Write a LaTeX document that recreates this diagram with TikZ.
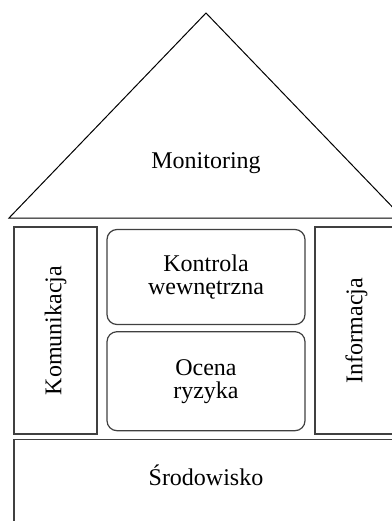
\documentclass[tikz,border=0pt]{standalone}
\usepackage{fontspec}
\setmainfont{Liberation Serif}
\usetikzlibrary{positioning}

\begin{document}
\begin{tikzpicture}[x=0.5pt,y=-0.5pt,
	every node/.style={font=\fontsize{12}{11.5}\selectfont},
	pillar/.style={draw=black!75,line width=0.6pt,minimum width=41.5pt,minimum height=103.5pt,inner sep=0pt},
	room/.style={draw=black!75,line width=0.6pt,rounded corners=5pt,minimum width=99pt,inner sep=0pt,align=center},
	ground/.style={draw=black!75,line width=0.6pt,minimum width=192pt,minimum height=60pt,inner sep=0pt,anchor=north}]
	\clip (0,0) rectangle (392,521);
	% roof
	\draw[line width=0.5pt] (9,218) -- (206,13) -- (403,218) -- cycle;
	\node[anchor=base] (mon) at (206,168) {Monitoring};
	% walls
	\node[pillar] (kom) at (55.5,330.5) {};
	\node[rotate=90] at (kom.center) {Komunikacja};
	\node[pillar] (inf) at (356.5,330.5) {};
	\node[rotate=90] at (inf.center) {Informacja};
	\node[room,minimum height=47.5pt] (kon) at (206,277) {Kontrola\\wewnętrzna};
	\node[room,minimum height=49.5pt] (oce) [below=3pt of kon] {Ocena\\ryzyka};
	% base
	\node[ground] (sro) at (206,439) {};
	\node[anchor=base] (srot) at (206,485) {Środowisko};
\end{tikzpicture}
\end{document}
